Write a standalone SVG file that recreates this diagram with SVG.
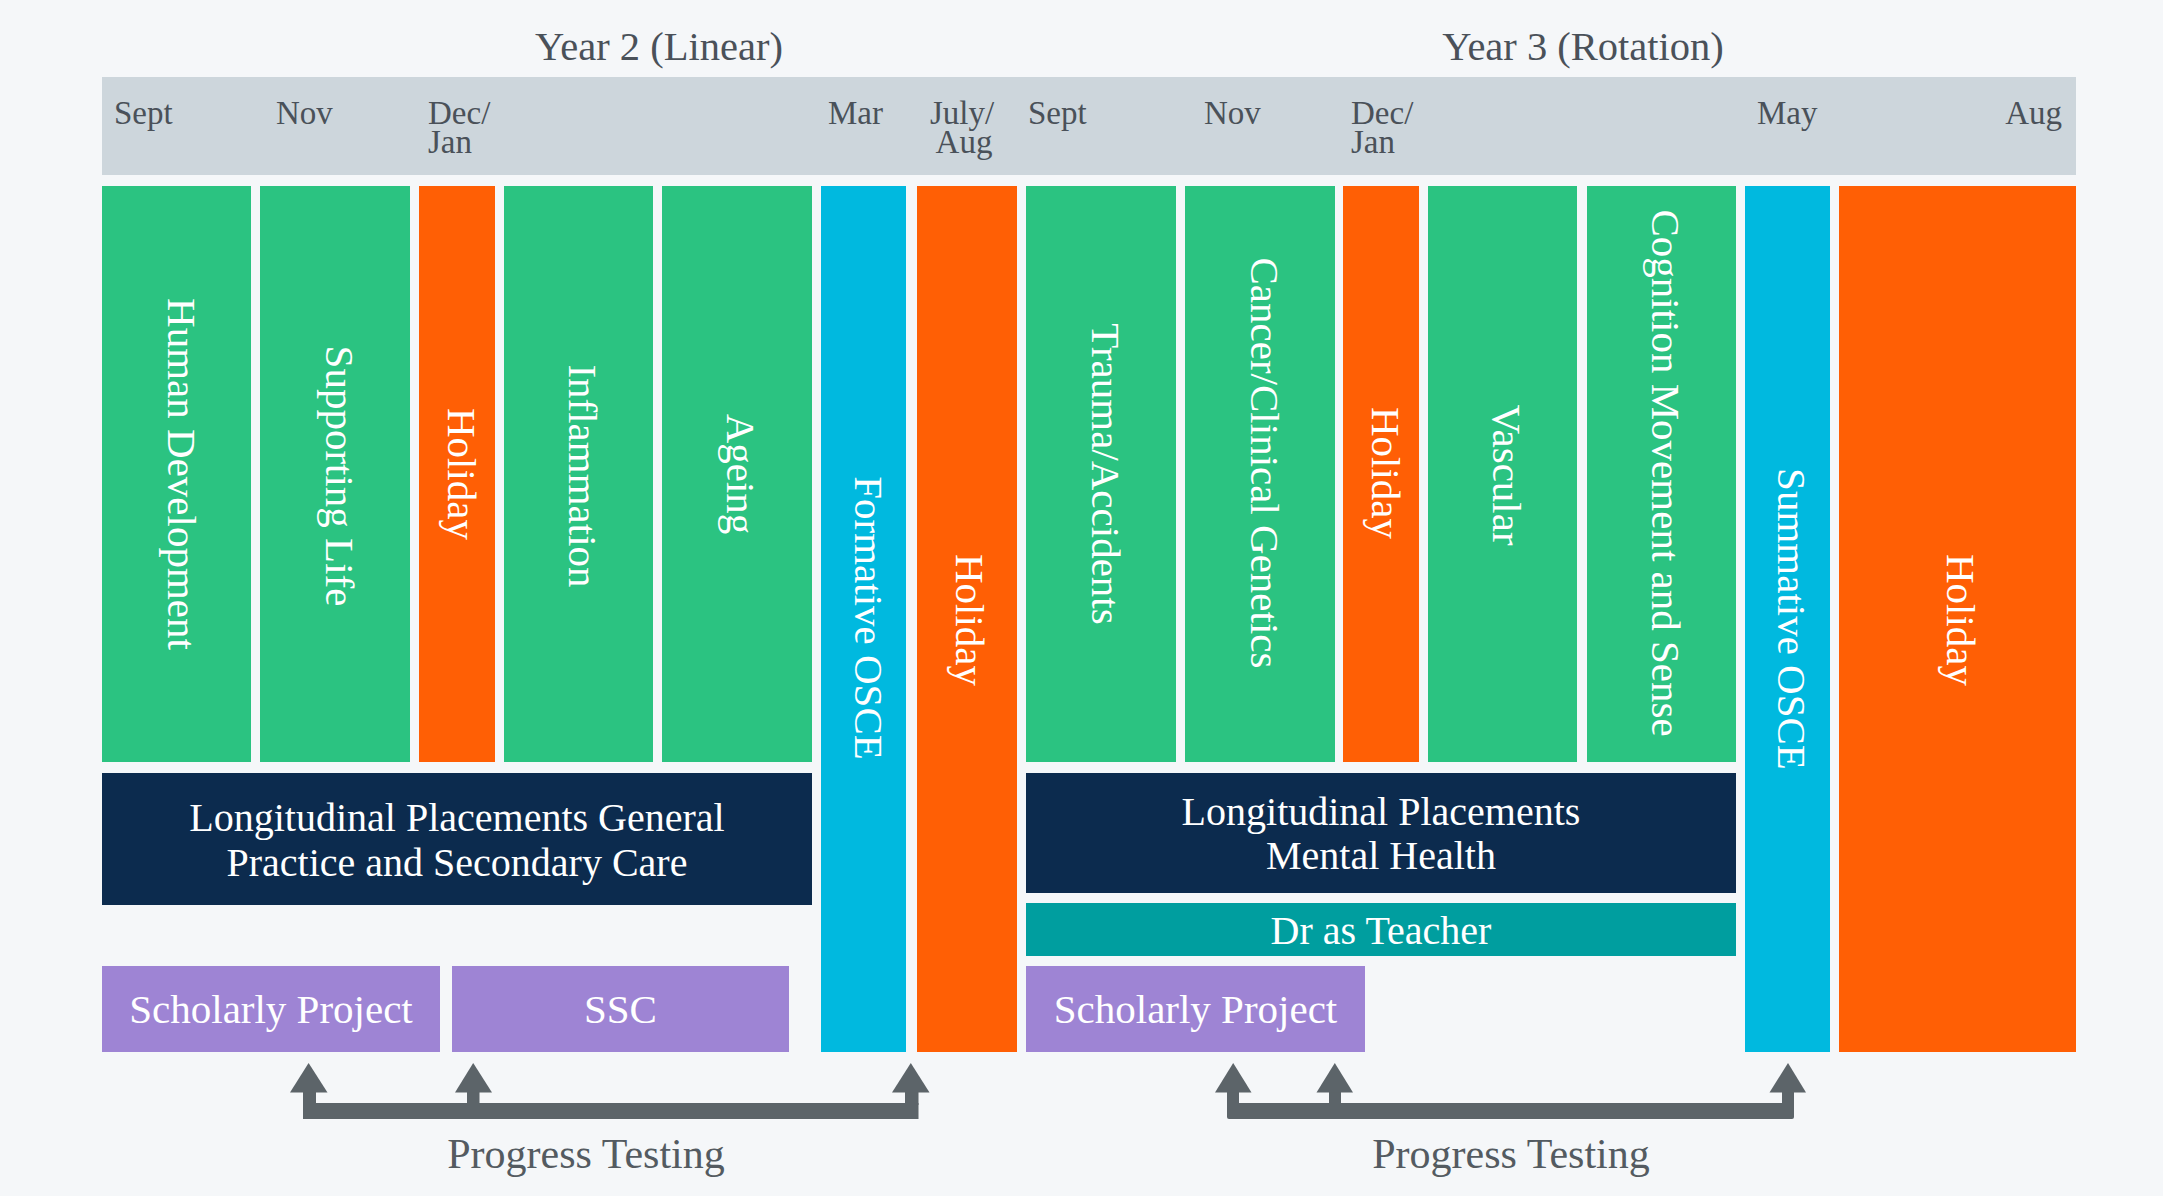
<svg xmlns="http://www.w3.org/2000/svg" width="2163" height="1196" viewBox="0 0 2163 1196">
<style>
text{font-family:"Liberation Serif","Times New Roman",serif}
.bg{fill:#f5f7f9}
.hdr{fill:#cdd6dc}
.g{fill:#2bc381}
.o{fill:#ff5f05}
.c{fill:#00b9df}
.n{fill:#0c2b4e}
.t{fill:#009e9f}
.p{fill:#9e84d4}
.year{font-size:40.5px;fill:#4a5159;text-anchor:middle}
.mon{font-size:33px;fill:#4a5159}
.rot{font-size:41px;fill:#ffffff;text-anchor:middle}
.lbl{font-size:40px;fill:#ffffff;text-anchor:middle}
.plbl{font-size:41px;fill:#ffffff;text-anchor:middle}
.pt{font-size:42px;fill:#545b61;text-anchor:middle}
.arr{fill:#5c6469}
</style>
<rect class="bg" x="0" y="0" width="2163" height="1196"/>

<g id="header">
  <text class="year" x="659" y="60">Year 2 (Linear)</text>
  <text class="year" x="1583" y="60">Year 3 (Rotation)</text>
  <rect class="hdr" x="102" y="77" width="1974" height="98"/>
  <text class="mon" x="114" y="124">Sept</text>
  <text class="mon" x="276" y="124">Nov</text>
  <text class="mon" x="428" y="124">Dec/<tspan x="428" y="153">Jan</tspan></text>
  <text class="mon" x="828" y="124">Mar</text>
  <text class="mon" x="962" y="124" text-anchor="middle">July/<tspan x="964" y="153">Aug</tspan></text>
  <text class="mon" x="1028" y="124">Sept</text>
  <text class="mon" x="1204" y="124">Nov</text>
  <text class="mon" x="1351" y="124">Dec/<tspan x="1351" y="153">Jan</tspan></text>
  <text class="mon" x="1757" y="124">May</text>
  <text class="mon" x="2062" y="124" text-anchor="end">Aug</text>
</g>

<g id="human-development">
  <rect class="g" x="102" y="186" width="149" height="576"/>
  <text class="rot" transform="translate(177,474) rotate(90)" y="9">Human Development</text>
</g>
<g id="supporting-life">
  <rect class="g" x="260" y="186" width="150" height="576"/>
  <text class="rot" transform="translate(335,476) rotate(90)" y="9">Supporting Life</text>
</g>
<g id="holiday-y2-winter">
  <rect class="o" x="419" y="186" width="76" height="576"/>
  <text class="rot" transform="translate(457,474) rotate(90)" y="9">Holiday</text>
</g>
<g id="inflammation">
  <rect class="g" x="504" y="186" width="149" height="576"/>
  <text class="rot" transform="translate(578,476) rotate(90)" y="9">Inflammation</text>
</g>
<g id="ageing">
  <rect class="g" x="662" y="186" width="150" height="576"/>
  <text class="rot" transform="translate(736,474) rotate(90)" y="9">Ageing</text>
</g>
<g id="formative-osce">
  <rect class="c" x="821" y="186" width="85" height="866"/>
  <text class="rot" transform="translate(864,618) rotate(90)" y="9">Formative OSCE</text>
</g>
<g id="holiday-y2-summer">
  <rect class="o" x="917" y="186" width="100" height="866"/>
  <text class="rot" transform="translate(965,620) rotate(90)" y="9">Holiday</text>
</g>
<g id="trauma-accidents">
  <rect class="g" x="1026" y="186" width="150" height="576"/>
  <text class="rot" transform="translate(1101,474) rotate(90)" y="9">Trauma/Accidents</text>
</g>
<g id="cancer-clinical-genetics">
  <rect class="g" x="1185" y="186" width="150" height="576"/>
  <text class="rot" transform="translate(1260,463) rotate(90)" y="9">Cancer/Clinical Genetics</text>
</g>
<g id="holiday-y3-winter">
  <rect class="o" x="1343" y="186" width="76" height="576"/>
  <text class="rot" transform="translate(1381,473) rotate(90)" y="9">Holiday</text>
</g>
<g id="vascular">
  <rect class="g" x="1428" y="186" width="149" height="576"/>
  <text class="rot" transform="translate(1502,475) rotate(90)" y="9">Vascular</text>
</g>
<g id="cognition">
  <rect class="g" x="1587" y="186" width="149" height="576"/>
  <text class="rot" transform="translate(1661,473) rotate(90)" y="9">Cognition Movement and Sense</text>
</g>
<g id="summative-osce">
  <rect class="c" x="1745" y="186" width="85" height="866"/>
  <text class="rot" transform="translate(1787,619) rotate(90)" y="9">Summative OSCE</text>
</g>
<g id="holiday-y3-summer">
  <rect class="o" x="1839" y="186" width="237" height="866"/>
  <text class="rot" transform="translate(1956,620) rotate(90)" y="9">Holiday</text>
</g>

<g id="longitudinal-y2">
  <rect class="n" x="102" y="773" width="710" height="132"/>
  <text class="lbl" x="457" y="831">Longitudinal Placements General<tspan x="457" y="876">Practice and Secondary Care</tspan></text>
</g>
<g id="longitudinal-y3">
  <rect class="n" x="1026" y="773" width="710" height="120"/>
  <text class="lbl" x="1381" y="825">Longitudinal Placements<tspan x="1381" y="869">Mental Health</tspan></text>
</g>
<g id="dr-as-teacher">
  <rect class="t" x="1026" y="903" width="710" height="53"/>
  <text class="lbl" x="1381" y="944">Dr as Teacher</text>
</g>
<g id="scholarly-y2">
  <rect class="p" x="102" y="966" width="338" height="86"/>
  <text class="plbl" x="271" y="1023">Scholarly Project</text>
</g>
<g id="ssc">
  <rect class="p" x="452" y="966" width="337" height="86"/>
  <text class="plbl" x="620.5" y="1023">SSC</text>
</g>
<g id="scholarly-y3">
  <rect class="p" x="1026" y="966" width="339" height="86"/>
  <text class="plbl" x="1195.5" y="1023">Scholarly Project</text>
</g>

<g id="connectors">
  <g id="progress-y2">
    <rect class="arr" x="303" y="1103" width="615.5" height="16"/>
    <rect class="arr" x="303" y="1090" width="13" height="15"/>
    <rect class="arr" x="467" y="1090" width="12.5" height="15"/>
    <rect class="arr" x="905" y="1090" width="13.5" height="15"/>
    <polygon class="arr" points="308.6,1063 327.5,1092.5 290,1092.5"/>
    <polygon class="arr" points="473.2,1063 492,1092.5 455,1092.5"/>
    <polygon class="arr" points="910.8,1063 929.5,1092.5 892,1092.5"/>
  </g>
  <g id="progress-y3">
    <rect class="arr" x="1227" y="1103" width="567" height="16" rx="2"/>
    <rect class="arr" x="1227" y="1090" width="12" height="15"/>
    <rect class="arr" x="1329" y="1090" width="12" height="15"/>
    <rect class="arr" x="1782" y="1090" width="12" height="15"/>
    <polygon class="arr" points="1233.2,1063 1251.5,1092.5 1215,1092.5"/>
    <polygon class="arr" points="1334.8,1063 1353,1092.5 1316.5,1092.5"/>
    <polygon class="arr" points="1788,1063 1806,1092.5 1769.5,1092.5"/>
  </g>
</g>

<g id="progress-labels">
  <text class="pt" x="586" y="1168">Progress Testing</text>
  <text class="pt" x="1511" y="1168">Progress Testing</text>
</g>
</svg>
